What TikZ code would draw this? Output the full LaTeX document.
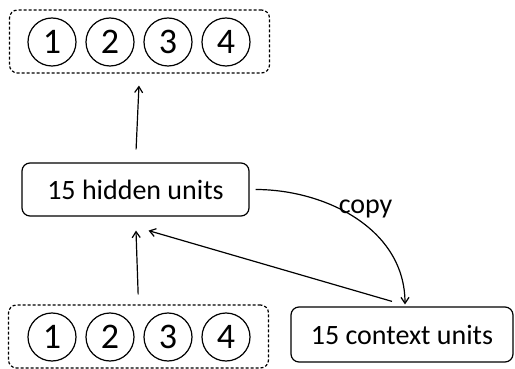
\documentclass[tikz,border=0pt]{standalone}
\usepackage{fontspec}
\setmainfont{Carlito}
\usepackage{tikz}
\usetikzlibrary{positioning,arrows.meta,calc}

\begin{document}
\begin{tikzpicture}[x=1pt, y=-1pt,
    unit/.style={circle, draw, line width=1.2pt, minimum size=48pt, inner sep=0pt, font=\fontsize{36}{40}\selectfont},
    group/.style={rectangle, draw, dashed, dash pattern=on 3pt off 2pt, line width=1.2pt, rounded corners=8pt, minimum width=260pt, minimum height=63pt},
    box/.style={rectangle, draw, line width=1.2pt, rounded corners=8pt, align=center, font=\fontsize{28}{32}\selectfont},
    arr/.style={-{Straight Barb[length=6pt,width=8pt]}, line width=1.2pt},
]
    \useasboundingbox (0,0) rectangle (515,369);
    % output layer
    \node[group] (outbox) at (139.5,41.5) {};
    \node[unit] (o1) at (52,42) {1};
    \node[unit] (o2) at (110,42) {2};
    \node[unit] (o3) at (168,42) {3};
    \node[unit] (o4) at (226,42) {4};
    % input layer
    \node[group] (inbox) at (138.5,336.5) {};
    \node[unit] (i1) at (52,337) {1};
    \node[unit] (i2) at (110,337) {2};
    \node[unit] (i3) at (168,337) {3};
    \node[unit] (i4) at (226,337) {4};

    \node[box, minimum width=227pt, minimum height=53pt] (hidden) at (135.5,189.5) {15 hidden units};
    \node[box, minimum width=222pt, minimum height=55pt] (context) at (402,334.5) {15 context units};

    \draw[arr, shorten <=10pt, shorten >=14pt] (inbox.north) -- (hidden.south);
    \draw[arr, shorten <=13pt, shorten >=12pt] (hidden.north) -- (outbox.south);
    \draw[arr, shorten <=6pt] (hidden.east) to[out=0, in=90] node[pos=0.42, above right=-12pt and -6pt, font=\fontsize{28}{32}\selectfont] {copy} ([xshift=3pt,yshift=2pt]context.north);
    \draw[arr] ([xshift=-10pt,yshift=5pt]context.north) -- ([xshift=13pt,yshift=-14pt]hidden.south);
\end{tikzpicture}
\end{document}
